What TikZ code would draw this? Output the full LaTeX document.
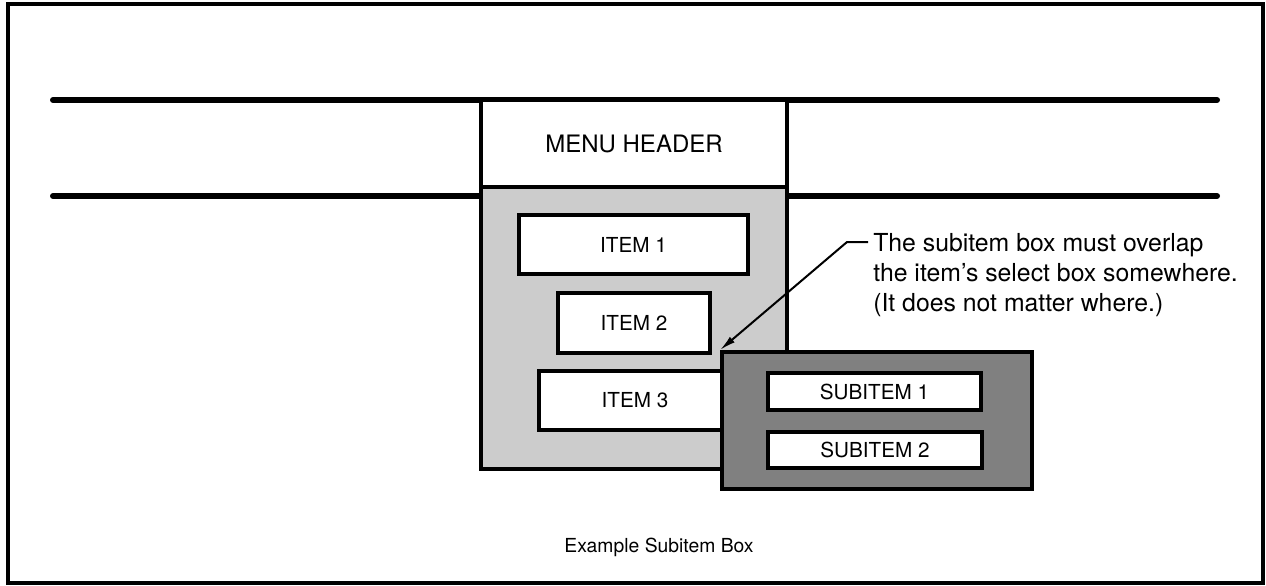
\documentclass[tikz,border=0pt]{standalone}
\usepackage{fontspec}
\setmainfont{TeX Gyre Heros}
\usetikzlibrary{arrows.meta}

\def\dotpx{0.75pt}

\begin{document}
\begin{tikzpicture}[x=0.75pt,y=0.75pt,yscale=-1,xscale=1,
  itembox/.style={draw,line width=2.4pt,fill=white,inner sep=0pt,font=\fontsize{15.5}{18}\selectfont},
  menubox/.style={draw,line width=2.4pt,inner sep=0pt},
  rule/.style={line width=4.5pt,line cap=round},
  pointer/.style={line width=1.5pt,-{Latex[length=12pt,width=5.5pt]}}]
%set diagram to the size of the page
\useasboundingbox (0,0) rectangle (1266,585);

%Shape: Frame
\draw [line width=3pt] (7.5,4) rectangle (1263,583);
%Straight Lines: menu bar
\draw [rule] (53,100) -- (1217,100);
\draw [rule] (53,196) -- (1217,196);

%Shape: Menu header
\node [menubox, fill=white, minimum width=306*\dotpx, minimum height=87*\dotpx,
  font=\fontsize{18}{22}\selectfont] (header) at (634,143.5) {MENU HEADER};
%Shape: Menu body
\node [menubox, fill=black!20, minimum width=306*\dotpx, minimum height=282*\dotpx] (menu) at (634,328) {};

%Shape: Items
\node [itembox, minimum width=229*\dotpx, minimum height=59*\dotpx] (item1) at (633.5,244.5) {ITEM 1};
\node [itembox, minimum width=152*\dotpx, minimum height=60*\dotpx] (item2) at (634,323) {ITEM 2};
\node [itembox, minimum width=192*\dotpx, minimum height=59*\dotpx] (item3) at (635,400.5) {ITEM 3};

%Shape: Subitem box
\node [menubox, line width=3pt, fill=black!50, minimum width=310*\dotpx, minimum height=137*\dotpx] (subbox) at (877,420.5) {};
\node [itembox, minimum width=213*\dotpx, minimum height=37*\dotpx] (sub1) at (874.5,391.5) {SUBITEM 1};
\node [itembox, minimum width=214*\dotpx, minimum height=36*\dotpx] (sub2) at (875,450) {SUBITEM 2};

% Text Node
\node [anchor=north west, align=left, inner sep=0pt, font=\fontsize{18.6}{22.5}\selectfont] (note) at (873,233)
  {The subitem box must overlap\\the item’s select box somewhere.\\(It does not matter where.)};
% Text Node
\node [font=\fontsize{14.5}{18}\selectfont] (caption) at (659,547) {Example Subitem Box};

%Straight Lines: pointer
\coordinate (notestart) at (868,242);
\coordinate (knee) at (847,242);
\draw [pointer] (notestart) -- (knee) -- (subbox.north west);

\end{tikzpicture}
\end{document}
